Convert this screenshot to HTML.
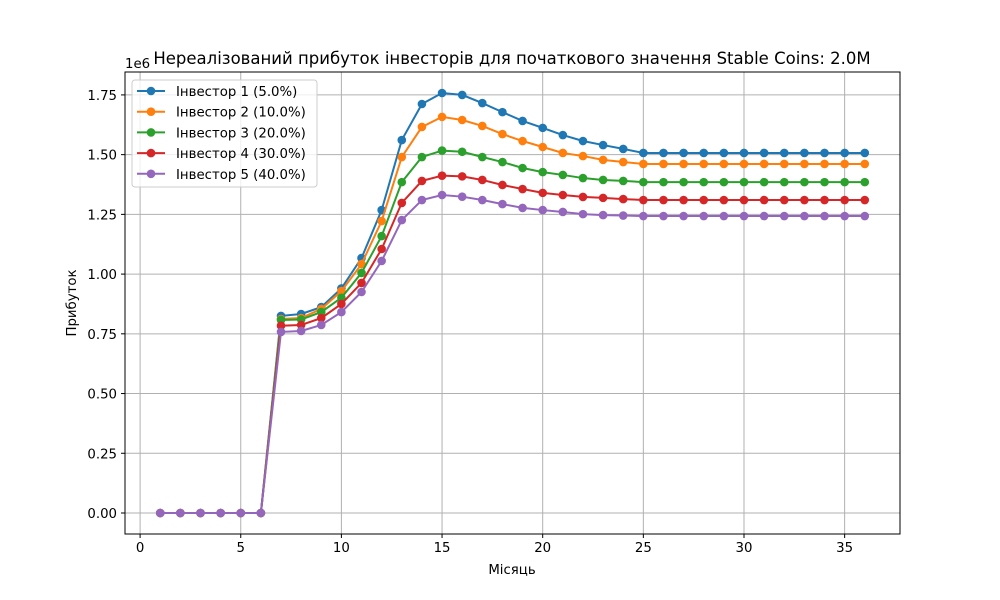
<!DOCTYPE html>
<html><head><meta charset="utf-8"><style>
body{margin:0;background:#fff}
svg{display:block;font-family:"DejaVu Sans","Liberation Sans",sans-serif}
</style></head><body>
<svg id="chart" width="1000" height="600" viewBox="0 0 1000 600">
<rect width="1000" height="600" fill="#fff"/>
<g id="grid"></g>
<g id="series"></g>
<rect x="125" y="72" width="775" height="462" fill="none" stroke="#000" stroke-width="1"/>
<g id="axes" font-size="13.3" fill="#000"></g>
<text x="512" y="64" text-anchor="middle" font-size="16.5">Нереалізований прибуток інвесторів для початкового значення Stable Coins: 2.0M</text>
<text x="125" y="68" font-size="13.3">1e6</text>
<text x="512" y="574" text-anchor="middle" font-size="13.3">Місяць</text>
<text transform="translate(76,303) rotate(-90)" text-anchor="middle" font-size="13.3">Прибуток</text>
<g id="legend"></g>
</svg>
<script>
const months = Array.from({length:36},(_,i)=>i+1);
const xTicks = [0,5,10,15,20,25,30,35];
const yTicks = [0,0.25,0.5,0.75,1.0,1.25,1.5,1.75];
const yTickLabels = ["0.00","0.25","0.50","0.75","1.00","1.25","1.50","1.75"];
const seriesNames = ["Інвестор 1 (5.0%)","Інвестор 2 (10.0%)","Інвестор 3 (20.0%)","Інвестор 4 (30.0%)","Інвестор 5 (40.0%)"];
const colors = ["#1f77b4","#ff7f0e","#2ca02c","#d62728","#9467bd"];
const inv1 = [0,0,0,0,0,0,0.825,0.833,0.862,0.94,1.067,1.268,1.561,1.712,1.758,1.75,1.716,1.678,1.641,1.612,1.582,1.557,1.54,1.524,1.507,1.507,1.507,1.507,1.507,1.507,1.507,1.507,1.507,1.507,1.507,1.507];
const inv2 = [0,0,0,0,0,0,0.812,0.816,0.854,0.929,1.042,1.222,1.49,1.616,1.658,1.645,1.62,1.586,1.557,1.532,1.507,1.494,1.478,1.469,1.461,1.461,1.461,1.461,1.461,1.461,1.461,1.461,1.461,1.461,1.461,1.461];
const inv3 = [0,0,0,0,0,0,0.808,0.81,0.841,0.901,1.005,1.159,1.385,1.49,1.517,1.512,1.49,1.469,1.444,1.427,1.415,1.402,1.394,1.39,1.385,1.385,1.385,1.385,1.385,1.385,1.385,1.385,1.385,1.385,1.385,1.385];
const inv4 = [0,0,0,0,0,0,0.784,0.787,0.816,0.875,0.963,1.105,1.298,1.39,1.412,1.409,1.394,1.373,1.356,1.34,1.331,1.323,1.319,1.314,1.31,1.31,1.31,1.31,1.31,1.31,1.31,1.31,1.31,1.31,1.31,1.31];
const inv5 = [0,0,0,0,0,0,0.758,0.762,0.787,0.841,0.925,1.055,1.226,1.31,1.331,1.324,1.31,1.293,1.277,1.268,1.26,1.251,1.247,1.245,1.243,1.243,1.243,1.243,1.243,1.243,1.243,1.243,1.243,1.243,1.243,1.243];
const allSeries = [inv1,inv2,inv3,inv4,inv5];

const L=125,R=900,T=72,B=534;
const xmin=-0.75, xmax=37.75, ymin=-0.0879, ymax=1.8459;
const sx=v=>L+(v-xmin)/(xmax-xmin)*(R-L);
const sy=v=>B-(v-ymin)/(ymax-ymin)*(B-T);
const NS="http://www.w3.org/2000/svg";
function mk(tag,attrs,parent){const e=document.createElementNS(NS,tag);for(const k in attrs)e.setAttribute(k,attrs[k]);parent.appendChild(e);return e;}
const grid=document.getElementById('grid'), axes=document.getElementById('axes');
xTicks.forEach(t=>{
  const x=sx(t);
  const g=mk('line',{x1:x,x2:x,y1:T,y2:B,stroke:'#b0b0b0','stroke-width':1},grid);
  
  
  const tk=mk('line',{x1:x,x2:x,y1:B,y2:B+4,stroke:'#000'},axes);
  
  
  const tx=mk('text',{x:x,y:B+18,'text-anchor':'middle'},axes);tx.textContent=t;
  
  
});
yTicks.forEach((t,i)=>{
  const y=sy(t);
  const g=mk('line',{x1:L,x2:R,y1:y,y2:y,stroke:'#b0b0b0','stroke-width':1},grid);
  
  
  const tk=mk('line',{x1:L-4,x2:L,y1:y,y2:y,stroke:'#000'},axes);
  
  
  const tx=mk('text',{x:L-8,y:y+5,'text-anchor':'end'},axes);tx.textContent=yTickLabels[i];
  
  
});
const sg=document.getElementById('series');
allSeries.forEach((s,si)=>{
  const g=mk('g',{},sg);
  
  
  const pl=mk('polyline',{points:s.map((v,i)=>sx(months[i])+','+sy(v)).join(' '),fill:'none',stroke:colors[si],'stroke-width':2}, g);
  
  
  s.forEach((v,i)=>{
    const c=mk('circle',{cx:sx(months[i]),cy:sy(v),r:4.3,fill:colors[si]},g);
    
    
  });
});
const lg=document.getElementById('legend');


mk('rect',{x:132,y:80,width:185,height:107,rx:3,fill:'#fff','fill-opacity':0.8,stroke:'#ccc'},lg);
seriesNames.forEach((n,i)=>{
  const y=91+i*20.7;
  const e=mk('g',{},lg);
  
  
  mk('line',{x1:137,x2:165,y1:y,y2:y,stroke:colors[i],'stroke-width':2},e);
  mk('circle',{cx:151,cy:y,r:4.3,fill:colors[i]},e);
  const t=mk('text',{x:176,y:y+5,'font-size':13.3},e);t.textContent=n;
});
</script>
</body></html>
